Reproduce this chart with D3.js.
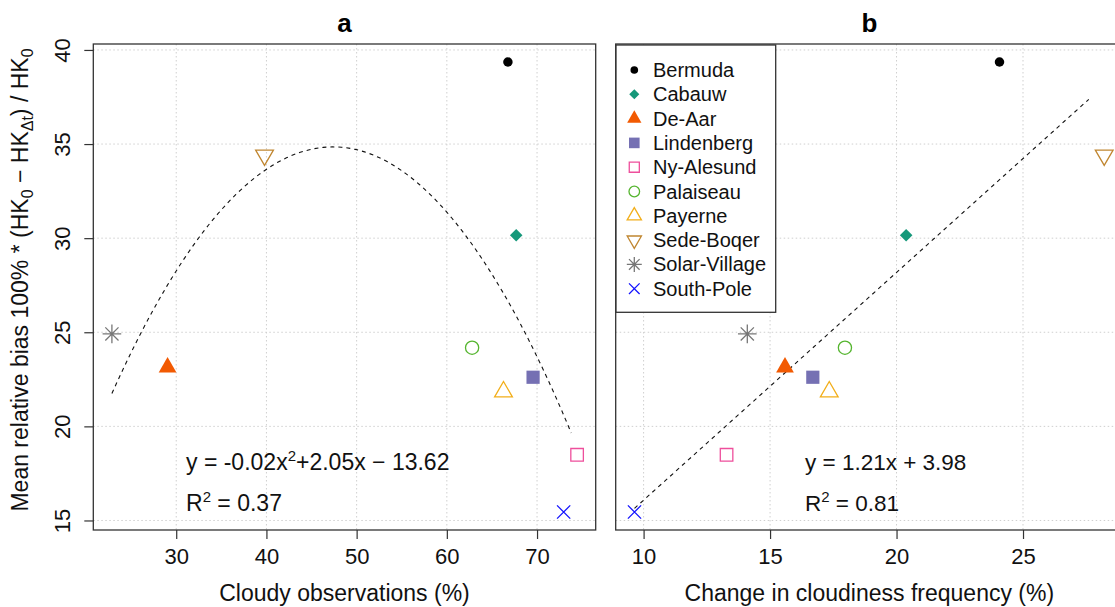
<!DOCTYPE html>
<html>
<head>
<meta charset="utf-8">
<script src="https://cdn.jsdelivr.net/npm/d3@7"></script>
<style>
  html, body { margin: 0; padding: 0; background: #fff; }
  svg { display: block; font-family: "Liberation Sans", Arial, Helvetica, sans-serif; }
</style>
</head>
<body>
<svg id="chart" width="1115" height="607"></svg>
<script>
// ---------------- data ----------------
const stations = ["Bermuda", "Cabauw", "De-Aar", "Lindenberg", "Ny-Alesund",
                  "Palaiseau", "Payerne", "Sede-Boqer", "Solar-Village", "South-Pole"];
const meanBias = [39.36, 30.15, 23.14, 22.61, 18.49, 24.18, 21.84, 34.41, 24.91, 15.45];
const cloudyObs = [66.77, 67.69, 29.04, 69.56, 74.44, 62.80, 66.28, 39.79, 22.87, 72.95];
const cloudChange = [24.07, 20.38, 15.59, 16.69, 13.28, 17.96, 17.34, 28.21, 14.10, 9.64];
const colors = ["#000000", "#16987A", "#F25A02", "#7570B3", "#EE4F9C",
                "#55B52F", "#F2AE1A", "#C08630", "#777777", "#1414FF"];
const shapes = ["dot", "diamond", "triUpFill", "squareFill", "square",
                "circle", "triUp", "triDown", "asterisk", "cross"];
const xTicksA = [30, 40, 50, 60, 70];
const xTicksB = [10, 15, 20, 25];
const yTicks = [15, 20, 25, 30, 35, 40];
// fitted curves
const quadCoef = [-14.1, 2.066, -0.0218];   // c, b, a
const quadRange = [22.87, 73.79];
const linCoef = [3.98, 1.21];
const linRange = [9.64, 27.6];

// ---------------- layout ----------------
const svg = d3.select("#chart");
const plotTop = 44, plotBottom = 530;
const panelA = {x0: 93.3, x1: 595.7};
const panelB = {x0: 615.7, x1: 1123};

function padExt(arr) {
  const [lo, hi] = d3.extent(arr);
  const p = (hi - lo) * 0.04;
  return [lo - p, hi + p];
}
const y = d3.scaleLinear().domain(padExt(meanBias)).range([plotBottom, plotTop]);
const xA = d3.scaleLinear().domain(padExt(cloudyObs)).range([panelA.x0, panelA.x1]);
const xB = d3.scaleLinear().domain(padExt(cloudChange)).range([panelB.x0, panelB.x1]);

const gridColor = "#cfcfcf";

function symbolPath(type, s) {
  const p = d3.path();
  const tr0 = 1.5551, tr1 = 1.3468, tr2 = 0.7776;
  switch (type) {
    case "triUp": case "triUpFill":
      p.moveTo(0, -tr0 * s); p.lineTo(tr1 * s, tr2 * s); p.lineTo(-tr1 * s, tr2 * s); p.closePath(); break;
    case "triDown":
      p.moveTo(0, tr0 * s); p.lineTo(tr1 * s, -tr2 * s); p.lineTo(-tr1 * s, -tr2 * s); p.closePath(); break;
    case "square": {
      const h = s * 0.95; p.rect(-h, -h, 2 * h, 2 * h); break; }
    case "squareFill": {
      const h = s; p.rect(-h, -h, 2 * h, 2 * h); break; }
    case "diamond": {
      const h = s * 0.95; p.moveTo(0, -h); p.lineTo(h, 0); p.lineTo(0, h); p.lineTo(-h, 0); p.closePath(); break; }
    case "cross":
      p.moveTo(-s, -s); p.lineTo(s, s); p.moveTo(s, -s); p.lineTo(-s, s); break;
    case "asterisk": {
      const a = s * 1.414;
      p.moveTo(-a, 0); p.lineTo(a, 0); p.moveTo(0, -a); p.lineTo(0, a);
      p.moveTo(-s, -s); p.lineTo(s, s); p.moveTo(s, -s); p.lineTo(-s, s); break; }
    case "circle":
      p.arc(0, 0, s, 0, 2 * Math.PI); break;
    case "dot":
      p.arc(0, 0, s * 0.72, 0, 2 * Math.PI); break;
  }
  return p.toString();
}
function drawSymbol(g, type, cx, cy, s, color) {
  const filled = ["dot", "diamond", "triUpFill", "squareFill"].includes(type);
  g.append("path")
    .attr("d", symbolPath(type, s))
    .attr("transform", `translate(${cx},${cy})`)
    .attr("fill", filled ? color : "none")
    .attr("stroke", filled ? "none" : color)
    .attr("stroke-width", 1.3);
}

function panel(x, ticks, title, xlabel, showY) {
  const g = svg.append("g");
  const [x0, x1] = x.range();
  // grid
  g.selectAll(".vg").data(ticks).enter().append("line")
    .attr("x1", d => x(d)).attr("x2", d => x(d)).attr("y1", plotTop).attr("y2", plotBottom)
    .attr("stroke", gridColor).attr("stroke-dasharray", "1.5,2.5").attr("stroke-width", 1);
  g.selectAll(".hg").data(yTicks).enter().append("line")
    .attr("x1", x0).attr("x2", x1).attr("y1", d => y(d)).attr("y2", d => y(d))
    .attr("stroke", gridColor).attr("stroke-dasharray", "1.5,2.5").attr("stroke-width", 1);
  // x axis
  const ax = g.append("g").attr("transform", `translate(0,${plotBottom})`)
    .call(d3.axisBottom(x).tickValues(ticks).tickSize(9).tickPadding(9).tickSizeOuter(0));
  ax.select(".domain").remove();
  ax.selectAll(".tick line").attr("stroke", "#333").attr("stroke-width", 1.2);
  ax.selectAll(".tick text").attr("font-size", "22px").attr("fill", "#111")
    .attr("font-family", "Liberation Sans, Arial, sans-serif").attr("dy", "0.71em");
  if (showY) {
    const ay = g.append("g").attr("transform", `translate(${x0},0)`)
      .call(d3.axisLeft(y).tickValues(yTicks).tickSize(9).tickSizeOuter(0));
    ay.select(".domain").remove();
    ay.selectAll(".tick line").attr("stroke", "#333").attr("stroke-width", 1.2);
    ay.selectAll(".tick text").remove();
    ay.selectAll(".tick").append("text")
      .attr("transform", "translate(-23,0) rotate(-90)")
      .attr("text-anchor", "middle").attr("font-size", "22px").attr("fill", "#111")
      .attr("font-family", "Liberation Sans, Arial, sans-serif")
      .text(d => d);
  }
  // box
  g.append("rect").attr("x", x0).attr("y", plotTop).attr("width", x1 - x0).attr("height", plotBottom - plotTop)
    .attr("fill", "none").attr("stroke", "#333").attr("stroke-width", 1.3);
  // title
  svg.append("text").attr("x", (x0 + x1) / 2).attr("y", 32).attr("text-anchor", "middle")
    .attr("font-size", "26px").attr("font-weight", "bold").attr("fill", "#000").text(title);
  // x label
  svg.append("text").attr("x", (x0 + x1) / 2).attr("y", 601).attr("text-anchor", "middle")
    .attr("font-size", "23px").attr("fill", "#111").text(xlabel);
  return g;
}

const gA = panel(xA, xTicksA, "a", "Cloudy observations (%)", true);
const gB = panel(xB, xTicksB, "b", "Change in cloudiness frequency (%)", false);

// fitted curves
const quadPts = d3.range(0, 101).map(i => {
  const xv = quadRange[0] + (quadRange[1] - quadRange[0]) * i / 100;
  return [xv, quadCoef[0] + quadCoef[1] * xv + quadCoef[2] * xv * xv];
});
gA.append("path").datum(quadPts)
  .attr("d", d3.line().x(d => xA(d[0])).y(d => y(d[1])))
  .attr("fill", "none").attr("stroke", "#111").attr("stroke-width", 1.1).attr("stroke-dasharray", "4,4");
const linPts = linRange.map(xv => [xv, linCoef[0] + linCoef[1] * xv]);
gB.append("path").datum(linPts)
  .attr("d", d3.line().x(d => xB(d[0])).y(d => y(d[1])))
  .attr("fill", "none").attr("stroke", "#111").attr("stroke-width", 1.1).attr("stroke-dasharray", "4,4");

// points
stations.forEach((st, i) => {
  drawSymbol(gA, shapes[i], xA(cloudyObs[i]), y(meanBias[i]), 6.6, colors[i]);
  drawSymbol(gB, shapes[i], xB(cloudChange[i]), y(meanBias[i]), 6.6, colors[i]);
});

// equations
function eqText(g, x0, yb, parts, fs) {
  const t = g.append("text").attr("x", x0).attr("y", yb).attr("font-size", fs + "px").attr("fill", "#111");
  parts.forEach(p => {
    const ts = t.append("tspan").text(p.t);
    if (p.sup) ts.attr("font-size", "15px").attr("dy", "-9");
    if (p.down) ts.attr("dy", "9");
  });
}
eqText(gA, 186, 470, [{t: "y = -0.02x"}, {t: "2", sup: true}, {t: "+2.05x \u2212 13.62", down: true}], 23);
eqText(gA, 186, 511, [{t: "R"}, {t: "2", sup: true}, {t: " = 0.37", down: true}], 23);
eqText(gB, 805, 470, [{t: "y = 1.21x + 3.98"}], 22.5);
eqText(gB, 805, 511, [{t: "R"}, {t: "2", sup: true}, {t: " = 0.81", down: true}], 22.5);

// y label
const yl = svg.append("text").attr("transform", "translate(28,280) rotate(-90)")
  .attr("text-anchor", "middle").attr("font-size", "23px").attr("fill", "#111");
yl.append("tspan").text("Mean relative bias 100% * (HK");
yl.append("tspan").text("0").attr("font-size", "16px").attr("dy", "5");
yl.append("tspan").text(" \u2212 HK").attr("dy", "-5");
yl.append("tspan").text("\u0394t").attr("font-size", "16px").attr("dy", "5");
yl.append("tspan").text(") / HK").attr("dy", "-5");
yl.append("tspan").text("0").attr("font-size", "16px").attr("dy", "5");

// legend
const lg = svg.append("g");
const legTop = 45, legStep = 24.3, legFirst = 70;
lg.append("rect").attr("x", 616).attr("y", legTop).attr("width", 159.7).attr("height", 267.3)
  .attr("fill", "#fff").attr("stroke", "#333").attr("stroke-width", 1.3);
stations.forEach((st, i) => {
  const cy = legFirst + i * legStep;
  drawSymbol(lg, shapes[i], 634.3, cy, 5.3, colors[i]);
  lg.append("text").attr("x", 653).attr("y", cy + 7).attr("font-size", "20px").attr("fill", "#111").text(st);
});
</script>
</body>
</html>
